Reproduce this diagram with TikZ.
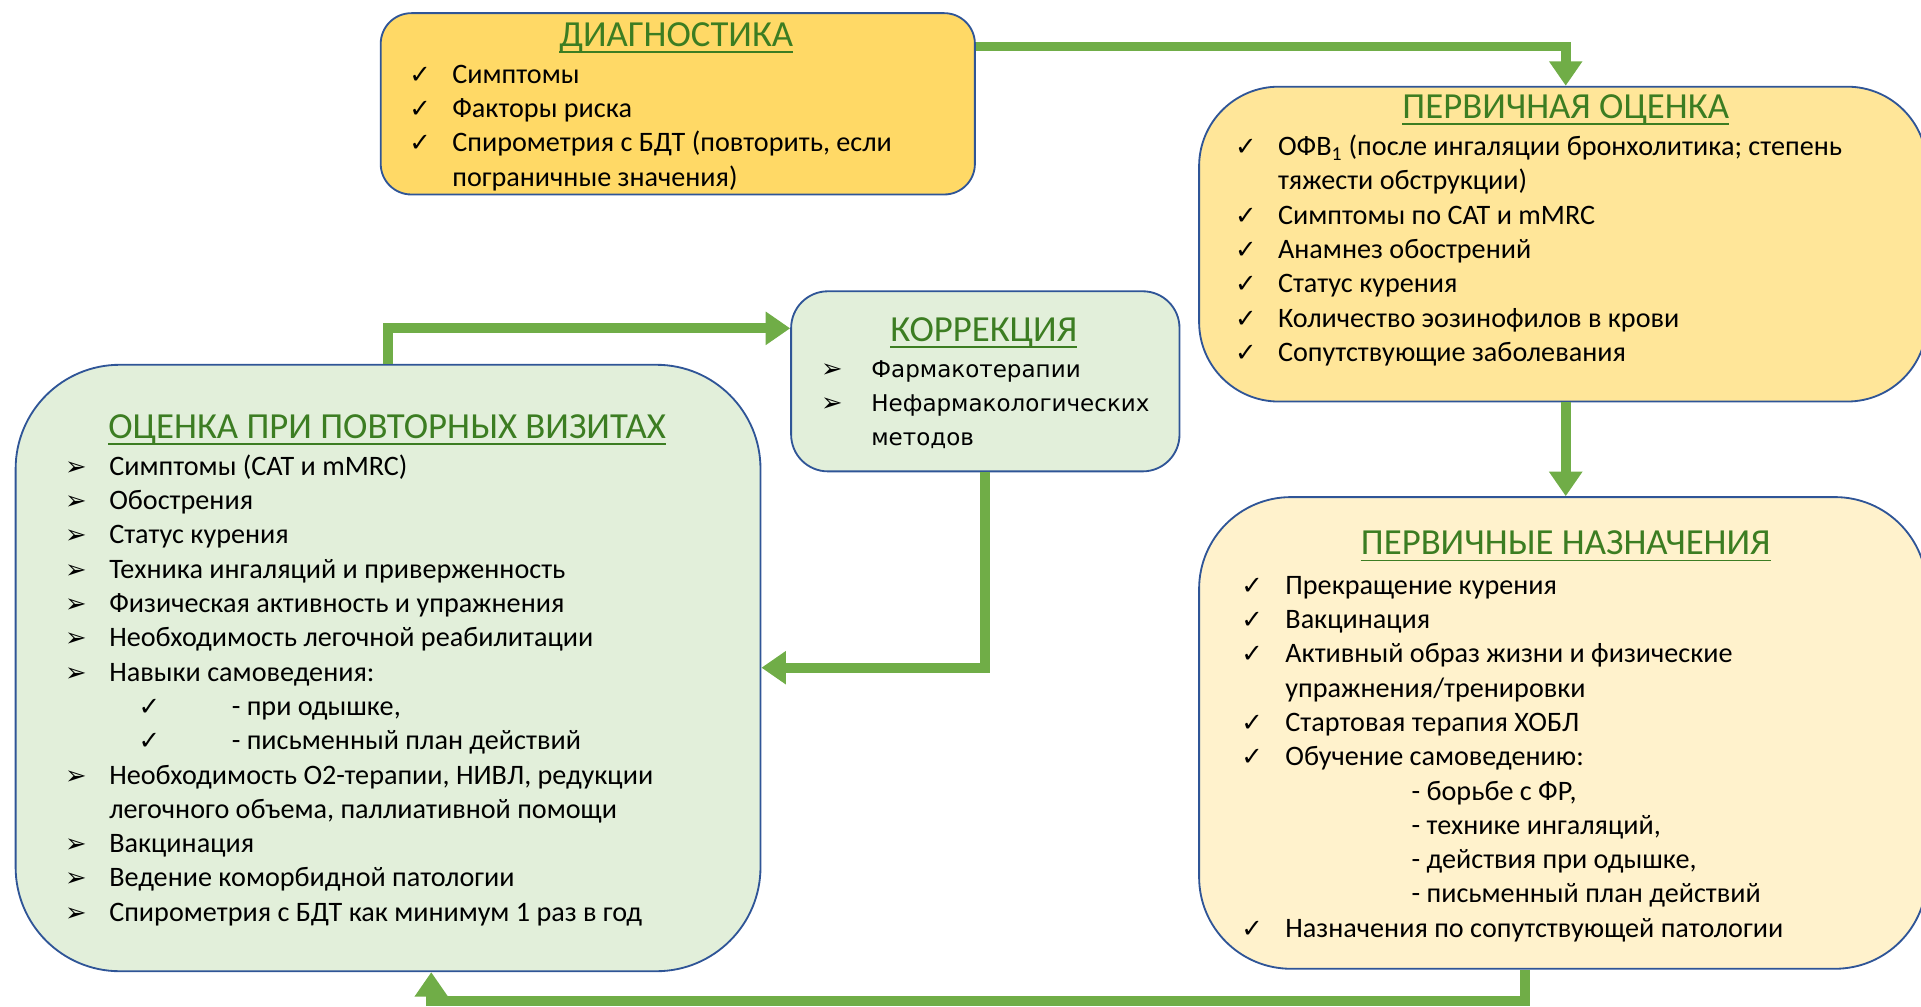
\documentclass[tikz,border=0pt]{standalone}
\usepackage{fontspec}
\setmainfont{Carlito}
\newfontfamily\symf{DejaVu Sans}
\newfontfamily\wide{DejaVu Sans}
\usetikzlibrary{arrows.meta}
\definecolor{bord}{HTML}{2F5597}
\definecolor{flowc}{HTML}{70AD47}
\definecolor{ttlc}{HTML}{3C7D22}
\definecolor{fdiag}{HTML}{FFD966}
\definecolor{focen}{HTML}{FFE699}
\definecolor{fnazn}{HTML}{FFF2CC}
\definecolor{fgreen}{HTML}{E2EFDA}
\newcommand\ck[1][35pt]{\makebox[#1][l]{\symf\fontsize{21}{21}\selectfont ✓}}
\newcommand\ar[1][36pt]{\makebox[#1][l]{\symf\fontsize{21}{21}\selectfont ➢}}
\newcommand\ind[1][35pt]{\hspace*{#1}}
\tikzset{
  box/.style={draw=bord, line width=1.5pt, anchor=north west, inner sep=0pt},
  ttl/.style={anchor=base, inner sep=0pt, text=ttlc, font=\fontsize{30}{34}\selectfont},
  uline/.style={draw=ttlc, line width=1.6pt},
  body/.style={anchor=base west, inner sep=0pt, font=\fontsize{23}{28}\selectfont},
  flow/.style={draw=flowc, line width=8pt, line join=miter, -{Triangle[width=26pt,length=20pt]}, shorten >=0pt}
}
\begin{document}
\begin{tikzpicture}[x=1pt,y=1pt]
\useasboundingbox (0,0) rectangle (1568,-821.2);
\clip (0,0) rectangle (1568,-821.2);
% boxes
\node[box, fill=fdiag, rounded corners=25pt, minimum width=485pt, minimum height=148pt] (diag) at (310,-10) {};
\node[box, fill=focen, rounded corners=65pt, minimum width=594pt, minimum height=257pt] (ocen) at (978,-70) {};
\node[box, fill=fnazn, rounded corners=75pt, minimum width=594pt, minimum height=385pt] (nazn) at (978,-405) {};
\node[box, fill=fgreen, rounded corners=30pt, minimum width=317pt, minimum height=147pt] (corr) at (645,-237) {};
\node[box, fill=fgreen, rounded corners=85pt, minimum width=608pt, minimum height=495pt] (left) at (12,-297) {};
% titles
\node[ttl] (t1) at (552,-38) {ДИАГНОСТИКА};
\node[ttl] (t2) at (1278,-97) {ПЕРВИЧНАЯ ОЦЕНКА};
\node[ttl] (t3) at (1278,-453) {ПЕРВИЧНЫЕ НАЗНАЧЕНИЯ};
\node[ttl] (t4) at (803,-279) {КОРРЕКЦИЯ};
\node[ttl] (t5) at (316,-358) {ОЦЕНКА ПРИ ПОВТОРНЫХ ВИЗИТАХ};
\foreach \t in {t1,t2,t3,t4,t5}
  \draw[uline] ([yshift=-4.5pt]\t.base west) -- ([yshift=-4.5pt]\t.base east);
% texts
\node[body] (x1) at (334,-68) {\begin{tabular}[t]{@{}l@{}}
\ck Симптомы\\
\ck Факторы риска\\
\ck Спирометрия с БДТ (повторить, если\\
\ind пограничные значения)
\end{tabular}};
\node[body] (x2) at (1008,-127) {\begin{tabular}[t]{@{}l@{}}
\ck ОФВ\textsubscript{1} (после ингаляции бронхолитика; степень\\
\ind тяжести обструкции)\\
\ck Симптомы по CAT и mMRC\\
\ck Анамнез обострений\\
\ck Статус курения\\
\ck Количество эозинофилов в крови\\
\ck Сопутствующие заболевания
\end{tabular}};
\node[body] (x3) at (1013,-485) {\begin{tabular}[t]{@{}l@{}}
\ck[36pt]Прекращение курения\\
\ck[36pt]Вакцинация\\
\ck[36pt]Активный образ жизни и физические\\
\ind[36pt]упражнения/тренировки\\
\ck[36pt]Стартовая терапия ХОБЛ\\
\ck[36pt]Обучение самоведению:\\
\ind[139pt]- борьбе с ФР,\\
\ind[139pt]- технике ингаляций,\\
\ind[139pt]- действия при одышке,\\
\ind[139pt]- письменный план действий\\
\ck[36pt]Назначения по сопутствующей патологии
\end{tabular}};
\node[body] (x4) at (53,-388) {\begin{tabular}[t]{@{}l@{}}
\ar Симптомы (CAT и mMRC)\\
\ar Обострения\\
\ar Статус курения\\
\ar Техника ингаляций и приверженность\\
\ar Физическая активность и упражнения\\
\ar Необходимость легочной реабилитации\\
\ar Навыки самоведения:\\
\ind[60pt]\ck[76pt]- при одышке,\\
\ind[60pt]\ck[76pt]- письменный план действий\\
\ar Необходимость О2-терапии, НИВЛ, редукции\\
\ind[36pt]легочного объема, паллиативной помощи\\
\ar Вакцинация\\
\ar Ведение коморбидной патологии\\
\ar Спирометрия с БДТ как минимум 1 раз в год
\end{tabular}};
\node[body, font=\wide\fontsize{18.8}{28}\selectfont] (x5) at (670,-308) {\begin{tabular}[t]{@{}l@{}}
\ar[41pt]Фармакотерапии\\
\ar[41pt]Нефармакологических\\
\ind[41pt]методов
\end{tabular}};
% connectors
\coordinate (b1) at (1278,-38);
\coordinate (c2) at (1278,0);
\coordinate (b3a) at (1245,-817);
\coordinate (b3b) at (352,-817);
\coordinate (b4a) at (317,-268);
\coordinate (b5a) at (804,-545);
\draw[flow] (diag.east |- b1) -- (b1) -- (ocen.north -| b1);
\draw[flow] (ocen.south -| c2) -- (nazn.north -| c2);
\draw[flow] (nazn.south -| b3a) -- (b3a) -- (b3b) -- (left.south -| b3b);
\draw[flow] (left.north -| b4a) -- (b4a) -- (corr.west |- b4a);
\draw[flow] (corr.south -| b5a) -- (b5a) -- (left.east |- b5a);
\end{tikzpicture}
\end{document}
